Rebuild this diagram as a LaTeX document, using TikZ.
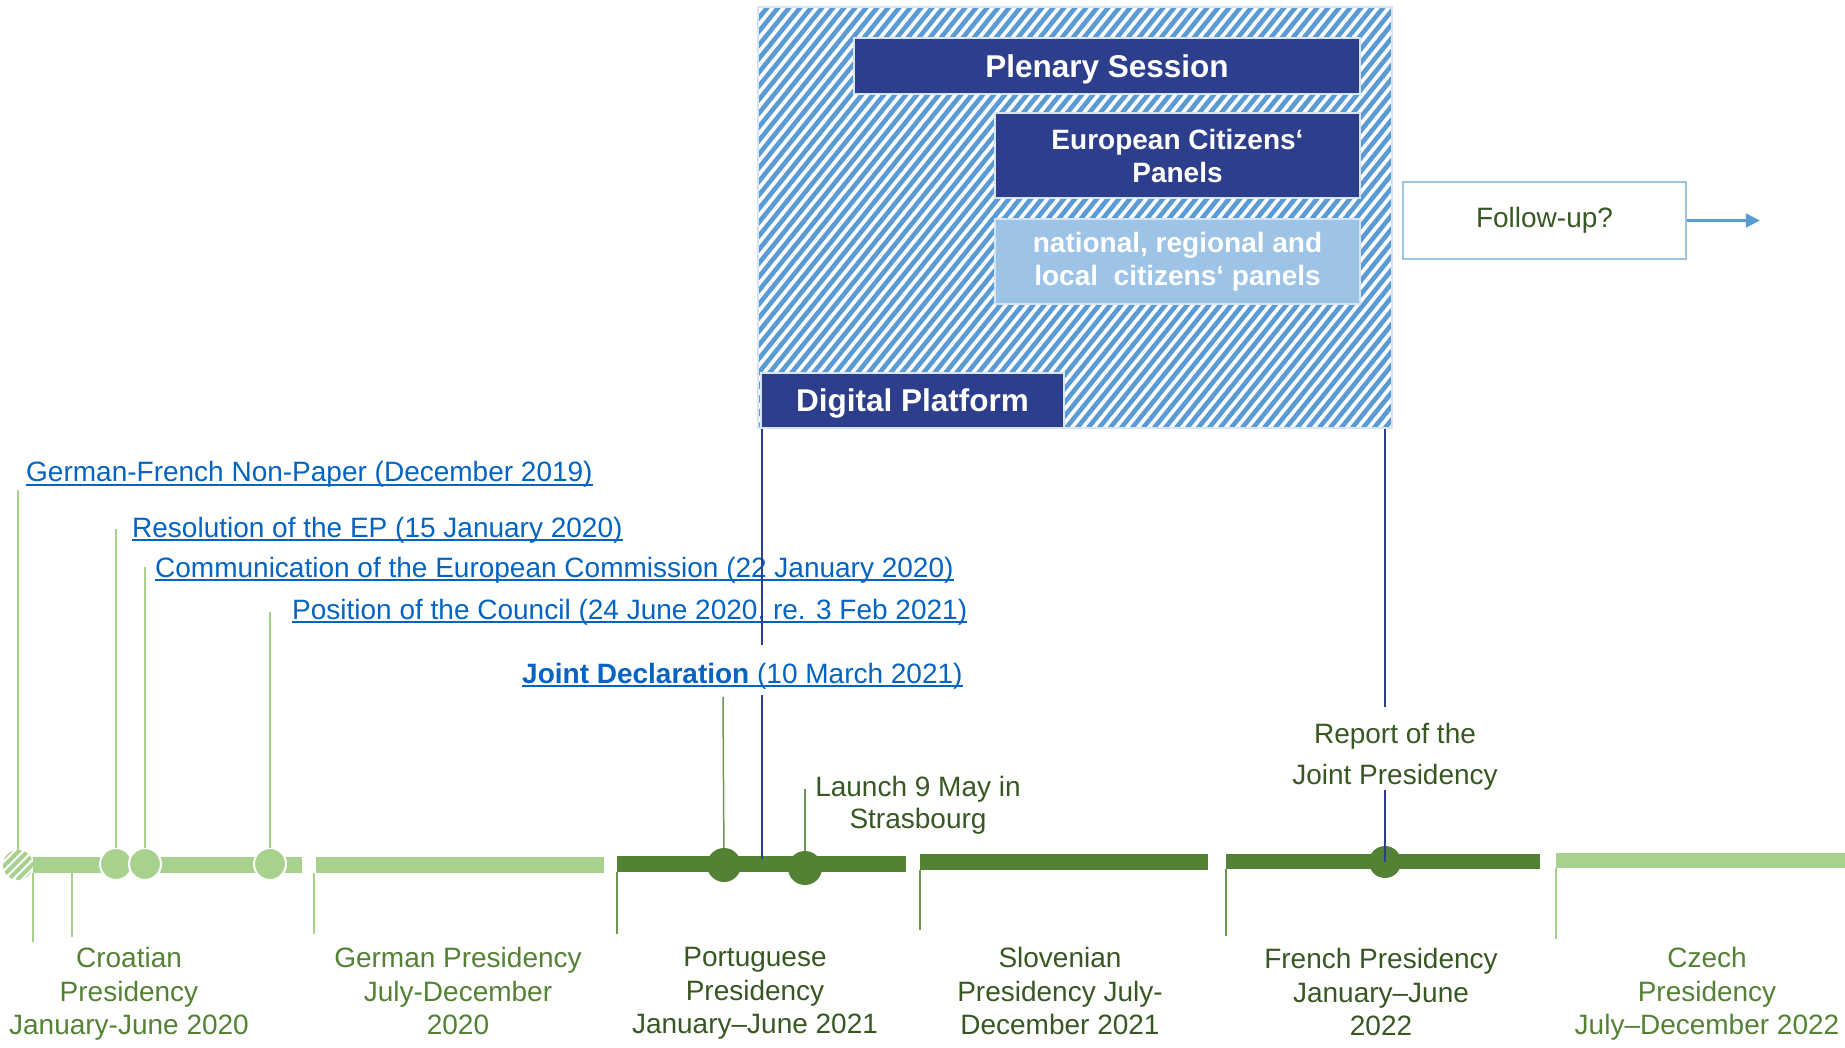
\documentclass[tikz,border=0pt]{standalone}
\usepackage{fontspec}
\setmainfont{Liberation Sans}
\usetikzlibrary{arrows.meta}
\definecolor{navy}{HTML}{2D3F8C}
\definecolor{linkblue}{HTML}{0563C1}
\definecolor{hatchblue}{HTML}{5B9BD5}
\definecolor{paleblue}{HTML}{9DC3E6}
\definecolor{rimblue}{HTML}{D6E4F4}
\definecolor{lgreen}{HTML}{A9D18E}
\definecolor{dgreen}{HTML}{548235}
\definecolor{tgreen}{HTML}{385723}
\newsavebox\ulbox
\newcommand\ulk[1]{\sbox\ulbox{#1}\rlap{\rule[-4pt]{\wd\ulbox}{2pt}}\usebox\ulbox}

\begin{document}
\begin{tikzpicture}[x=1pt,y=-1pt,
  txt/.style={font=\fontsize{28}{33.5}\selectfont, inner sep=0pt},
  lnk/.style={txt, text=linkblue, anchor=base west},
  lbl/.style={txt, align=center, anchor=north},
  panel/.style={fill=navy, draw=rimblue, line width=1.5pt, text=white, align=center, inner sep=0pt,
    font=\bfseries\fontsize{28}{33}\selectfont},
  bar/.style={minimum height=16pt, inner sep=0pt, outer sep=0pt},
  dot/.style={circle, inner sep=0pt, outer sep=0pt, minimum size=32pt},
  lline/.style={lgreen, line width=1.5pt},
  dline/.style={dgreen!85, line width=1.5pt},
  nline/.style={navy, line width=2.5pt}]
\useasboundingbox (0,0) rectangle (1845,1048);

\node[draw=rimblue, line width=1.5pt, fill=white, inner sep=0pt, minimum width=634pt, minimum height=421pt,
  path picture={\foreach \s in {-363,-352,...,640}
    \draw[hatchblue, line width=4.6pt] ([xshift=\s pt]path picture bounding box.south west) -- ++(355pt,440pt);}]
  (conf) at (1075,217.5) {};
\node[panel, minimum width=506pt, minimum height=56pt, text depth=0pt, font=\bfseries\fontsize{31.5}{36}\selectfont] (plen) at (1107,66) {Plenary Session};
\node[panel, minimum width=365pt, minimum height=85pt] (ecp) at (1177.5,155.5) {European Citizens‘\\Panels};
\node[panel, fill=paleblue, minimum width=365pt, minimum height=85pt] (ncp) at (1177.5,261.5) {national, regional and\\local\ \ citizens‘ panels};
\node[panel, minimum width=303pt, minimum height=55pt, text depth=0pt, font=\bfseries\fontsize{31.5}{36}\selectfont] (dig) at (912.5,400.5) {Digital Platform};

\node[txt, draw=paleblue, line width=1.5pt, text=tgreen, minimum width=283pt, minimum height=77pt] (fu) at (1544.5,220.5) {Follow-up?};
\draw[hatchblue, line width=2.5pt, -{Triangle[length=14pt,width=14pt]}] (fu.east) -- ++(73,0);

\node[lnk] (np) at (26,482) {\ulk{German-French Non-Paper (December 2019)}};
\node[lnk] (ep) at (132,537) {\ulk{Resolution of the EP (15 January 2020)}};
\node[lnk] (com) at (155,577) {\ulk{Communication of the European Commission (22 January 2020)}};
\node[lnk] (cou) at (292,619) {\ulk{Position of the Council (24 June 2020, re. 3 Feb 2021)}};

\node[bar, fill=lgreen, minimum width=269pt] (cro) at (167.5,865) {};
\node[bar, fill=lgreen, minimum width=288pt] (ger) at (460,865) {};
\node[bar, fill=dgreen, minimum width=289pt] (por) at (761.5,864) {};
\node[bar, fill=dgreen, minimum width=288pt] (slo) at (1064,862) {};
\node[bar, fill=dgreen, minimum width=314pt, minimum height=15pt] (fre) at (1383,861.5) {};
\node[bar, fill=lgreen, minimum width=289pt, minimum height=15pt] (cze) at (1700.5,860.5) {};

\draw[lline] (cro.south west) -- ++(0,69);
\draw[lline] ([xshift=39pt]cro.south west) -- ++(0,64);
\draw[lline] ([xshift=-2pt]ger.south west) -- ++(0,61);
\draw[dline] (por.south west) -- ++(0,62);
\draw[dline] (slo.south west) -- ++(0,60);
\draw[dline] (fre.south west) -- ++(0,67);
\draw[lline] (cze.south west) -- ++(0,71);

\node[dot, minimum size=30pt, fill=white, path picture={\foreach \s in {-40,-31,...,40}
    \draw[lgreen, line width=4pt] ([xshift=\s pt]path picture bounding box.south west) -- ++(40pt,40pt);}]
  (hc) at (18,865) {};
\coordinate (hct) at (18,490);
\draw[lline] (hct) -- (hc);
\foreach \n/\x/\y in {ec1/116/529, ec2/145/567, ec3/270/612}
{   \node[dot, fill=lgreen, draw=white, line width=2pt] (\n) at (\x,864) {};
    \coordinate (\n t) at (\x,\y);
    \draw[lline] (\n t) -- (\n);
}

\node[dot, fill=dgreen, minimum size=34pt] (lw1) at (724,865) {};
\node[dot, fill=dgreen, minimum size=34pt] (lw2) at (805,868) {};
\coordinate (lw1t) at (723,697);
\coordinate (lw2t) at (805,789);
\draw[dline] (lw1t) -- (lw1);
\draw[dline] (lw2t) -- (lw2);
\node[dot, fill=dgreen] (fr) at (1385,862) {};

\coordinate (dpx) at (762,859);
\draw[nline] (dig.south -| dpx) -- (dpx);
\node[lnk, fill=white, text height=32pt, text depth=6pt, inner ysep=6pt] (jd) at (522,683) {\ulk{\textbf{Joint Declaration} (10 March 2021)}};

\coordinate (rpt) at (1385,707);
\coordinate (rpb) at (1385,790);
\draw[nline] (conf.south -| rpt) -- (rpt);
\draw[nline] (rpb) -- (fr.center);

\node[lbl, text=tgreen, font=\fontsize{28}{32}\selectfont] (lau) at (918,775.6) {Launch 9 May in\\Strasbourg};
\node[lbl, text=tgreen, font=\fontsize{28}{41}\selectfont] (rep) at (1395,722.6) {Report of the\\Joint Presidency};

\node[lbl, text=dgreen] (crol) at (129,947.5) {Croatian\\Presidency\\January-June 2020};
\node[lbl, text=dgreen] (gerl) at (458,947.5) {German Presidency\\July-December\\2020};
\node[lbl, text=tgreen] (porl) at (755,947.5) {Portuguese\\Presidency\\January–June 2021};
\node[lbl, text=tgreen] (slol) at (1060,947.5) {Slovenian\\Presidency July-\\December 2021};
\node[lbl, text=tgreen] (frel) at (1381,948.5) {French Presidency\\January–June\\2022};
\node[lbl, text=dgreen] (czel) at (1707,947.5) {Czech\\Presidency\\July–December 2022};
\end{tikzpicture}
\end{document}
